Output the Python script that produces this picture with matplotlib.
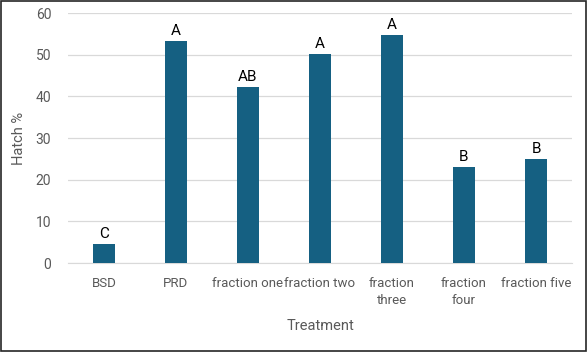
import matplotlib
matplotlib.use("Agg")
import matplotlib.pyplot as plt
from matplotlib.patches import Rectangle

plt.rcParams['font.family'] = ['Roboto', 'DejaVu Sans']

treatments = ['BSD', 'PRD', 'fraction one', 'fraction two', 'fraction\nthree',
              'fraction\nfour', 'fraction five']
hatch = [4.6, 53.3, 42.2, 50.2, 54.7, 23.0, 25.0]
letters = ['C', 'A', 'AB', 'A', 'A', 'B', 'B']

bar_color = '#156082'
grey = '#595959'

fig = plt.figure(figsize=(5.88, 3.52), dpi=100)
ax = fig.add_axes([0.1156, 0.2528, 0.8572, 0.7102])

x = range(len(treatments))
ax.bar(x, hatch, width=0.31, color=bar_color, zorder=3)
for i, (v, lab) in enumerate(zip(hatch, letters)):
    ax.annotate(lab, (i, v), xytext=(0, 2), textcoords='offset points',
                ha='center', va='bottom', fontsize=11, color='black')

ax.set_xlim(-0.5, len(treatments) - 0.5)
ax.set_ylim(0, 60)
ax.set_yticks(range(0, 61, 10))
ax.set_xticks(list(x))
ax.set_xticklabels(treatments, fontsize=9.5, color=grey, linespacing=1.4)
ax.tick_params(axis='y', labelsize=10, colors=grey, length=0, pad=12)
ax.tick_params(axis='x', length=0, pad=10)
ax.grid(axis='y', color='#d9d9d9', linewidth=0.9, zorder=0)
for s in ['top', 'right', 'left']:
    ax.spines[s].set_visible(False)
ax.spines['bottom'].set_color('#d9d9d9')
ax.set_ylabel('Hatch %', fontsize=10.5, color=grey, labelpad=7)
ax.set_xlabel('Treatment', fontsize=10.5, color=grey, labelpad=9)

fig.patches.append(Rectangle((0.002, 0.003), 0.995, 0.994, transform=fig.transFigure,
                             fill=False, edgecolor='#262626', linewidth=1.2))

fig.savefig('out.png', dpi=100)
